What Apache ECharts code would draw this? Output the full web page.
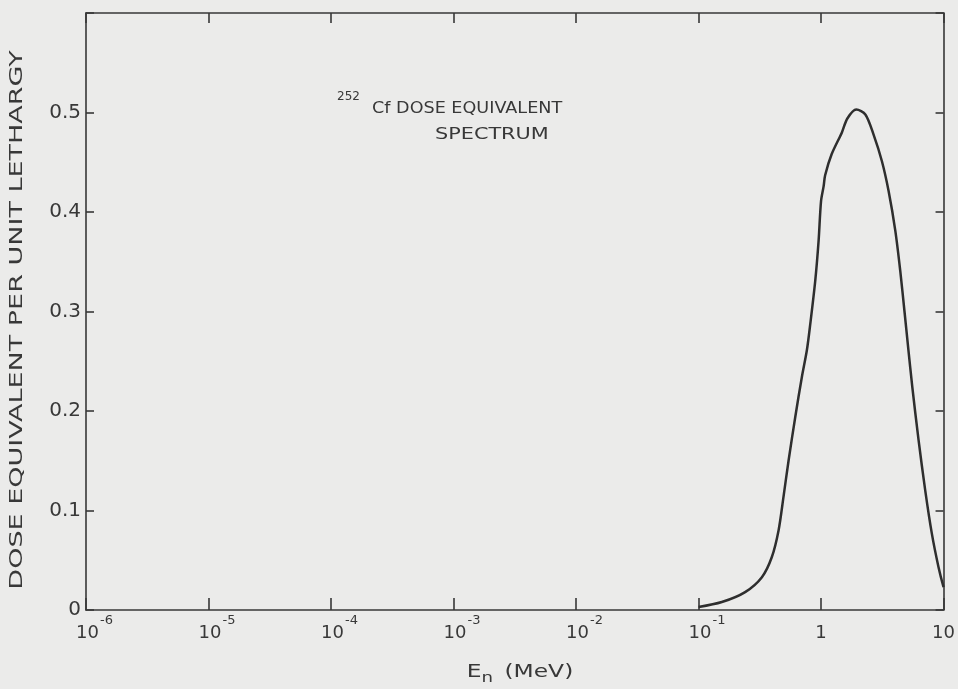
<!DOCTYPE html>
<html>
<head>
<meta charset="utf-8">
<title>252Cf dose equivalent spectrum</title>
<script src="https://cdn.jsdelivr.net/npm/echarts@6/dist/echarts.min.js"></script>
<style>
  html, body { margin: 0; padding: 0; background: #ebebea; }
  #chart { width: 958px; height: 689px; }
</style>
</head>
<body>
<div id="chart"></div>
<script>
// energy (MeV) and dose equivalent per unit lethargy
const energy = [
  0.1, 0.155, 0.24, 0.329, 0.396, 0.45, 0.494, 0.543, 0.616, 0.697,
  0.766, 0.816, 0.897, 0.955, 1.0, 1.05, 1.08, 1.22, 1.48, 1.64,
  1.94, 2.3, 2.68, 3.14, 3.56, 4.04, 4.43, 4.8, 5.16, 5.56,
  6.25, 7.09, 8.02, 9.1, 10
];
const dose = [
  0.003, 0.008, 0.018, 0.033, 0.053, 0.080, 0.114, 0.150, 0.194, 0.234,
  0.261, 0.287, 0.331, 0.371, 0.411, 0.426, 0.437, 0.458, 0.480, 0.494,
  0.503, 0.498, 0.478, 0.451, 0.421, 0.381, 0.341, 0.300, 0.262, 0.224,
  0.171, 0.120, 0.077, 0.043, 0.023
];
const xTickExp = [-6, -5, -4, -3, -2, -1, 0, 1];
const yTicks = [0, 0.1, 0.2, 0.3, 0.4, 0.5];

const ink = '#383838';
const font = 'DejaVu Sans';

const chart = echarts.init(document.getElementById('chart'));

// "10" sits on the tick, the exponent hangs up and to the right of it
const xLabel = (v) => {
  const e = Math.round(Math.log10(v));
  if (xTickExp.indexOf(e) < 0) return '';
  if (e === 0) return '{h|}{b|1}';
  if (e === 1) return '{h|}{b|10}';
  return '{pad|}{b|10}{sup|' + e + '}';
};

const yLabel = (v) => {
  const hit = yTicks.find((t) => Math.abs(t - v) < 1e-6);
  if (hit === undefined) return '';
  return hit === 0 ? '0' : hit.toFixed(1);
};

const axisInk = { color: ink, width: 1.6 };

chart.setOption({
  backgroundColor: '#ebebea',
  animation: false,
  grid: { left: 86, right: 13, top: 13, bottom: 79 },
  graphic: [
    {
      type: 'text', x: 337, y: 97,
      style: { text: '252', fill: ink, font: '12px "' + font + '"', align: 'left', verticalAlign: 'middle' }
    },
    {
      type: 'text', x: 372, y: 109, scaleX: 1.1,
      style: { text: 'Cf DOSE EQUIVALENT', fill: ink, font: '16px "' + font + '"', align: 'left', verticalAlign: 'middle' }
    },
    {
      type: 'text', x: 435, y: 135, scaleX: 1.3,
      style: { text: 'SPECTRUM', fill: ink, font: '16px "' + font + '"', align: 'left', verticalAlign: 'middle' }
    },
    {
      type: 'text', x: 17, y: 320, rotation: Math.PI / 2, scaleX: 1.5,
      style: {
        text: 'DOSE EQUIVALENT PER UNIT LETHARGY', fill: ink,
        font: '18px "' + font + '"', align: 'center', verticalAlign: 'middle'
      }
    },
    {
      type: 'text', x: 520, y: 672, scaleX: 1.3,
      style: {
        text: 'E{sub|n} (MeV)', fill: ink, font: '18px "' + font + '"',
        align: 'center', verticalAlign: 'middle',
        rich: { sub: { fontSize: 14, fontFamily: font, fill: ink, padding: [12, 3, 0, 0] } }
      }
    }
  ],
  xAxis: [
    {
      type: 'log', logBase: 10, min: 1e-6, max: 10,
      axisLine: { show: true, onZero: false, lineStyle: axisInk },
      axisTick: { show: true, inside: true, length: 12, lineStyle: axisInk },
      splitLine: { show: false },
      minorTick: { show: false },
      axisLabel: {
        color: ink, fontFamily: font, fontSize: 18, margin: 4,
        formatter: xLabel,
        rich: {
          h: { width: 0, lineHeight: 28 },
          pad: { width: 17, lineHeight: 28 },
          b: { fontSize: 18, fontFamily: font, color: ink, verticalAlign: 'bottom' },
          sup: { fontSize: 13, fontFamily: font, color: ink, verticalAlign: 'top', padding: [0, 0, 0, 1] }
        }
      }
    },
    {
      type: 'log', logBase: 10, min: 1e-6, max: 10, position: 'top',
      axisLine: { show: true, onZero: false, lineStyle: axisInk },
      axisTick: { show: true, inside: true, length: 10, lineStyle: axisInk },
      axisLabel: { show: false },
      splitLine: { show: false }
    }
  ],
  yAxis: [
    {
      type: 'value', min: 0, max: 0.6, interval: 0.1,
      axisLine: { show: true, onZero: false, lineStyle: axisInk },
      axisTick: { show: true, inside: true, length: 8, lineStyle: axisInk },
      splitLine: { show: false },
      axisLabel: { color: ink, fontFamily: font, fontSize: 20, margin: 5, formatter: yLabel }
    },
    {
      type: 'value', min: 0, max: 0.6, interval: 0.1, position: 'right',
      axisLine: { show: true, onZero: false, lineStyle: axisInk },
      axisTick: { show: true, inside: true, length: 8, lineStyle: axisInk },
      axisLabel: { show: false },
      splitLine: { show: false }
    }
  ],
  series: [
    {
      type: 'line',
      xAxisIndex: 0, yAxisIndex: 0,
      data: energy.map((e, i) => [e, dose[i]]),
      smooth: 0.3,
      showSymbol: false,
      lineStyle: { color: '#2e2e2e', width: 2.5 }
    }
  ]
});
</script>
</body>
</html>
